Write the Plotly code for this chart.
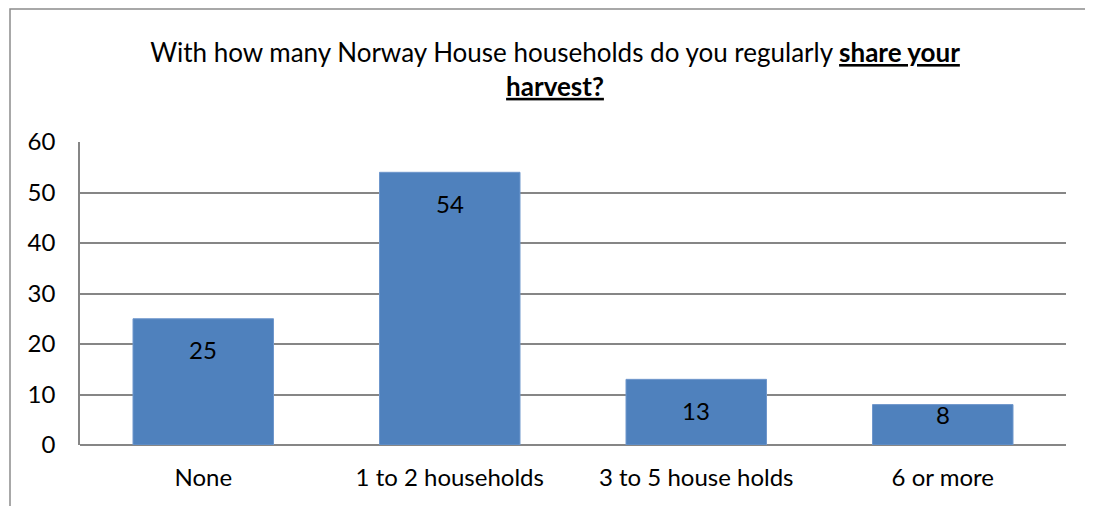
import plotly.graph_objects as go

categories = ["None", "1 to 2 households", "3 to 5 house holds", "6 or more"]
counts = [25, 54, 13, 8]
y_ticks = [0, 10, 20, 30, 40, 50, 60]

title_text = ("With how many Norway House households do you regularly "
              "<b><u>share your</u></b><br><b><u>harvest?</u></b>")

FONT = "Lato"
GRID = "#868686"
BAR = "#4F81BD"

# page body adds an 8px offset, so the figure is a bit smaller than the window
W, H = 1085, 498
L, R, T, B = 72, 27, 134, 61
plot_w = W - L - R
plot_h = H - T - B
px_per_unit = plot_h / 60

fig = go.Figure(go.Bar(
    x=categories, y=counts,
    marker=dict(color=BAR, line=dict(color="#6f97cc", width=1)),
    hoverinfo="x+y",
))

# value labels sit ~31px below the bar top, pulled up for short bars
for cat, val in zip(categories, counts):
    bar_px = val * px_per_unit
    shift = -min(31, bar_px - 31)
    fig.add_annotation(x=cat, y=val, text=str(val), showarrow=False,
                       yanchor="middle", yshift=shift,
                       font=dict(family=FONT, size=24, color="black"))

# outer chart border (cropped at the right and bottom)
fig.add_shape(type="rect", xref="paper", yref="paper",
              x0=-70 / plot_w, x1=1.2, y0=-0.5, y1=(plot_h + T - 1) / plot_h,
              line=dict(color="#8c8c8c", width=1.5))

fig.update_layout(
    width=W, height=H,
    margin=dict(l=L, r=R, t=T, b=B),
    paper_bgcolor="white", plot_bgcolor="white",
    bargap=0.43,
    showlegend=False,
    title=dict(text=title_text, x=547 / W, xanchor="center",
               y=1 - 54 / H, yanchor="top",
               font=dict(family=FONT, size=26, color="black")),
    font=dict(family=FONT, size=24, color="black"),
)
fig.update_xaxes(showgrid=False, showline=False, ticks="",
                 ticklabelstandoff=16,
                 tickfont=dict(family=FONT, size=24, color="black"))
fig.update_yaxes(range=[0, 60], tickvals=y_ticks, showgrid=True,
                 gridcolor=GRID, gridwidth=1.5,
                 showline=True, linecolor=GRID, linewidth=1.5,
                 zeroline=True, zerolinecolor=GRID, zerolinewidth=1.5,
                 ticks="", ticklabelstandoff=18,
                 tickfont=dict(family=FONT, size=24, color="black"))

fig.write_html("out.html")
